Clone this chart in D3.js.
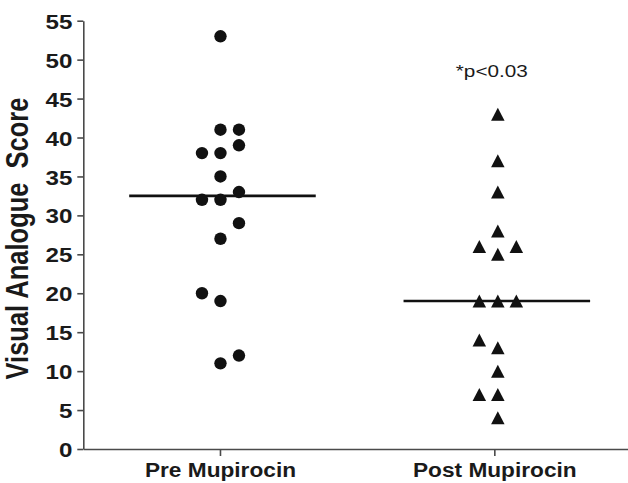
<!DOCTYPE html>
<html>
<head>
<meta charset="utf-8">
<script src="https://cdn.jsdelivr.net/npm/d3@7"></script>
<style>
  body { margin: 0; background: #fff; }
  svg { display: block; }
  text { font-family: "Liberation Sans", Arial, sans-serif; fill: #1a1a1a; }
</style>
</head>
<body>
<div id="chart"></div>
<script>
const categories = ["Pre Mupirocin", "Post Mupirocin"];

const preScores = [53, 41, 41, 39, 38, 38, 35, 33, 32, 32, 29, 27, 20, 19, 12, 11];
const preColumn = ["mid", "mid", "right", "right", "left", "mid", "mid", "right",
                   "left", "mid", "right", "mid", "left", "mid", "right", "mid"];

const postScores = [43, 37, 33, 28, 26, 26, 25, 19, 19, 19, 14, 13, 10, 7, 7, 4];
const postColumn = ["mid", "mid", "mid", "mid", "left", "right", "mid", "left",
                    "mid", "right", "left", "mid", "mid", "left", "mid", "mid"];

const yTicks = [0, 5, 10, 15, 20, 25, 30, 35, 40, 45, 50, 55];
const yLabel = "Visual Analogue  Score";
const note = "*p<0.03";

const width = 628, height = 483;
const margin = {top: 20.7, left: 83.3, bottom: 34};
const stretch = 1.15; // the figure is a bit wider than tall

let svg = d3.select("#chart").append("svg")
    .attr("width", width)
    .attr("height", height);

let x = d3.scaleBand()
    .domain(categories)
    .range([margin.left, 632])
    .padding(0);

let y = d3.scaleLinear()
    .domain([0, 55])
    .range([height - margin.bottom, margin.top]);

let column = d3.scaleOrdinal()
    .domain(["left", "mid", "right"])
    .range([-18.5, 0, 18.5]);

// axes
let yAxis = svg.append("g")
    .attr("transform", `translate(${margin.left},0)`)
    .call(d3.axisLeft(y).tickValues(yTicks).tickSize(6).tickSizeOuter(0));

let xAxis = svg.append("g")
    .attr("transform", `translate(0,${y(0)})`)
    .call(d3.axisBottom(x).tickSize(7).tickSizeOuter(0));

svg.selectAll(".domain, .tick line")
    .attr("stroke", "#4a4a4a")
    .attr("stroke-width", 1.6);

yAxis.selectAll(".tick text")
    .attr("x", -11 / stretch)
    .attr("dy", "0.36em")
    .attr("transform", `scale(${stretch},1)`)
    .style("font-size", "21px")
    .style("font-weight", "bold")
    .attr("fill", "#1a1a1a");

xAxis.selectAll(".tick text")
    .attr("y", 28.5)
    .attr("dy", 0)
    .attr("transform", "scale(1.08,1)")
    .style("font-size", "21px")
    .style("font-weight", "bold")
    .attr("fill", "#1a1a1a");

// y axis title
svg.append("text")
    .attr("transform", `translate(27.5,${(95 + 382) / 2}) rotate(-90) scale(1,1.2)`)
    .attr("text-anchor", "middle")
    .style("font-size", "25.5px")
    .style("font-weight", "bold")
    .style("white-space", "pre")
    .text(yLabel);

// significance note
svg.append("text")
    .attr("transform", `translate(${x(categories[1]) + x.bandwidth() / 2 - 3},77) scale(1.22,1)`)
    .attr("text-anchor", "middle")
    .style("font-size", "17px")
    .text(note);

const groups = [
  {name: categories[0], values: preScores, cols: preColumn, shape: "circle"},
  {name: categories[1], values: postScores, cols: postColumn, shape: "triangle"}
];

// triangle with its box centred on the point
const triangle = {
  draw(context, size) {
    let w = 13.5, h = 13;
    context.moveTo(0, -h / 2);
    context.lineTo(w / 2, h / 2);
    context.lineTo(-w / 2, h / 2);
    context.closePath();
  }
};

groups.forEach(g => {
  let cx = x(g.name) + x.bandwidth() / 2;
  let pts = g.values.map((v, i) => ({v: v, col: g.cols[i]}));

  // median bar
  let med = d3.median(g.values);
  let half = x.bandwidth() * 0.34;
  svg.append("line")
      .attr("x1", cx - half + 2)
      .attr("x2", cx + half + 2)
      .attr("y1", y(med))
      .attr("y2", y(med))
      .attr("stroke", "#111")
      .attr("stroke-width", 2.6);

  if (g.shape == "circle") {
    svg.selectAll(null)
        .data(pts)
        .enter().append("circle")
        .attr("cx", d => cx + column(d.col))
        .attr("cy", d => y(d.v))
        .attr("r", 6.2)
        .attr("fill", "#111");
  } else {
    svg.selectAll(null)
        .data(pts)
        .enter().append("path")
        .attr("transform", d => `translate(${cx + 3 + column(d.col)},${y(d.v)})`)
        .attr("d", d3.symbol().type(triangle))
        .attr("fill", "#111");
  }
});
</script>
</body>
</html>
